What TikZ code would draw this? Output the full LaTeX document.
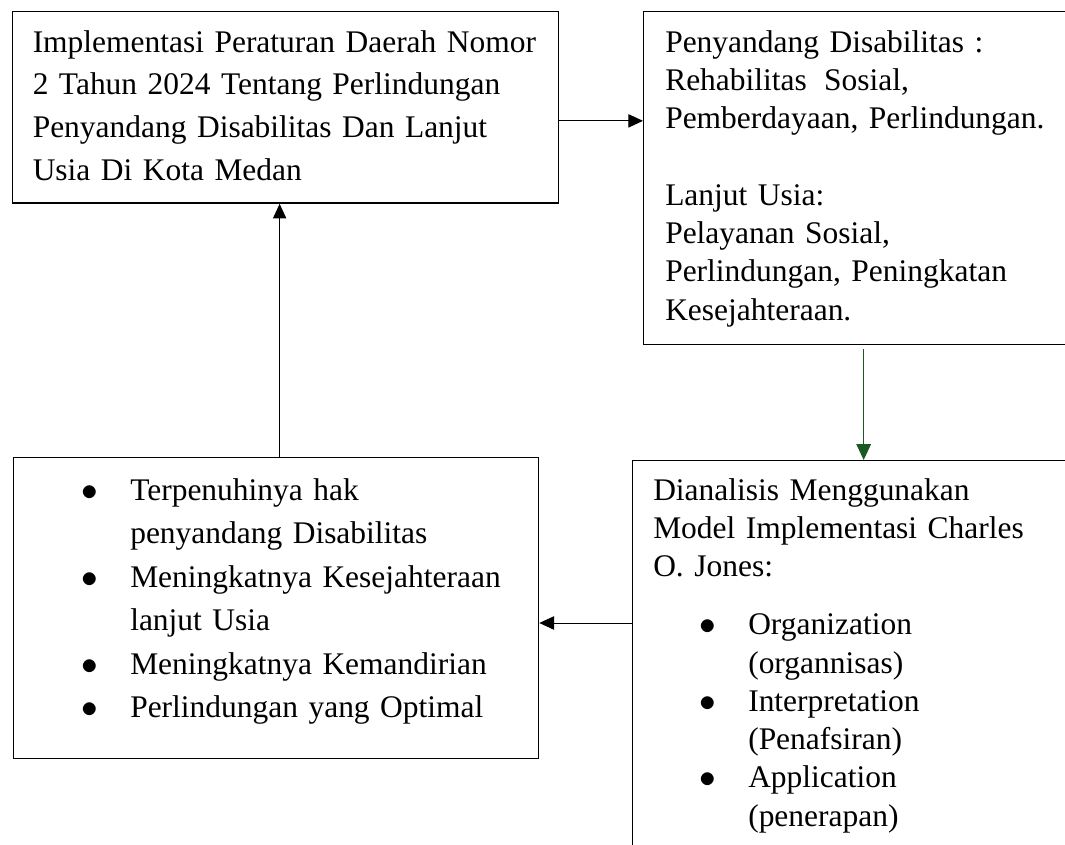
\documentclass[tikz,border=0pt]{standalone}
\usepackage{fontspec}
\setmainfont{Liberation Serif}
\usetikzlibrary{arrows.meta}
\definecolor{arrgreen}{RGB}{24,90,32}
\newcommand{\bl}[1]{\hspace*{#1}\makebox[36.75pt][l]{$\bullet$}}
\begin{document}
\begin{tikzpicture}[x=0.75pt,y=-0.75pt,
  box/.style={draw,line width=1pt,rectangle,inner sep=0pt,anchor=north west},
  txt/.style={anchor=north west,inner sep=0pt,align=left,text width=#1},
  fa/.style={font=\fontsize{23.6pt}{32pt}\selectfont},
  fb/.style={font=\fontsize{23.6pt}{28.7pt}\selectfont},
  fc/.style={font=\fontsize{23.6pt}{32.6pt}\selectfont},
  arr/.style={line width=0.75pt,-{Triangle[length=11pt,width=10pt]}},
  garr/.style={draw=arrgreen,line width=0.75pt,-{Triangle[length=12pt,width=11pt,fill=arrgreen]}}]
\clip (0,0) rectangle (1065,845);
% boxes
\node[box,minimum width=409.5pt,minimum height=143.625pt] (b1) at (12,11) {};
\node[box,minimum width=330pt,minimum height=249.75pt] (b2) at (643,11) {};
\node[box,minimum width=393.75pt,minimum height=225.75pt] (b3) at (13,457) {};
\node[box,minimum width=346.5pt,minimum height=315pt] (b4) at (632,460) {};
% texts
\node[txt=380pt,fa] (t1) at (32.5,28) {\rule{0pt}{18pt}\makebox[378pt][s]{Implementasi Peraturan Daerah Nomor}\\
\makebox[378pt][s]{2 Tahun 2024 Tentang Perlindungan}\\
\makebox[378pt][s]{Penyandang Disabilitas Dan Lanjut}\\
Usia Di Kota Medan};
\node[txt=300pt,fb] (t2) at (665,28) {\rule{0pt}{18pt}Penyandang Disabilitas :\\
Rehabilitas\hspace{13pt}Sosial,\\
Pemberdayaan, Perlindungan.\\[28.7pt]
Lanjut Usia:\\
Pelayanan Sosial,\\
Perlindungan, Peningkatan\\
Kesejahteraan.};
\node[txt=330pt,fc] (t3) at (81,476) {\rule{0pt}{18pt}\bl{0pt}Terpenuhinya hak\\
\hspace*{36.75pt}penyandang Disabilitas\\
\bl{0pt}Meningkatnya Kesejahteraan\\
\hspace*{36.75pt}lanjut Usia\\
\bl{0pt}Meningkatnya Kemandirian\\
\bl{0pt}Perlindungan yang Optimal};
\node[txt=300pt,fb] (t4) at (653,476) {\rule{0pt}{18pt}Dianalisis Menggunakan\\
Model Implementasi Charles\\
O. Jones:\\[14.8pt]
\bl{34.5pt}Organization\\
\hspace*{71.25pt}(organnisas)\\
\bl{34.5pt}Interpretation\\
\hspace*{71.25pt}(Penafsiran)\\
\bl{34.5pt}Application\\
\hspace*{71.25pt}(penerapan)};
% connectors
\draw[arr] ([yshift=-10.1pt]b1.east) coordinate (p1) -- (p1 -| b2.west);
\draw[garr] ([yshift=-3pt]b2.south) -- (b4.north);
\draw[arr] ([yshift=-122.25pt]b4.north west) coordinate (p2) -- (p2 -| b3.east);
\draw[arr] ([xshift=2.6pt]b3.north) coordinate (p3) -- (p3 |- b1.south);
\end{tikzpicture}
\end{document}
